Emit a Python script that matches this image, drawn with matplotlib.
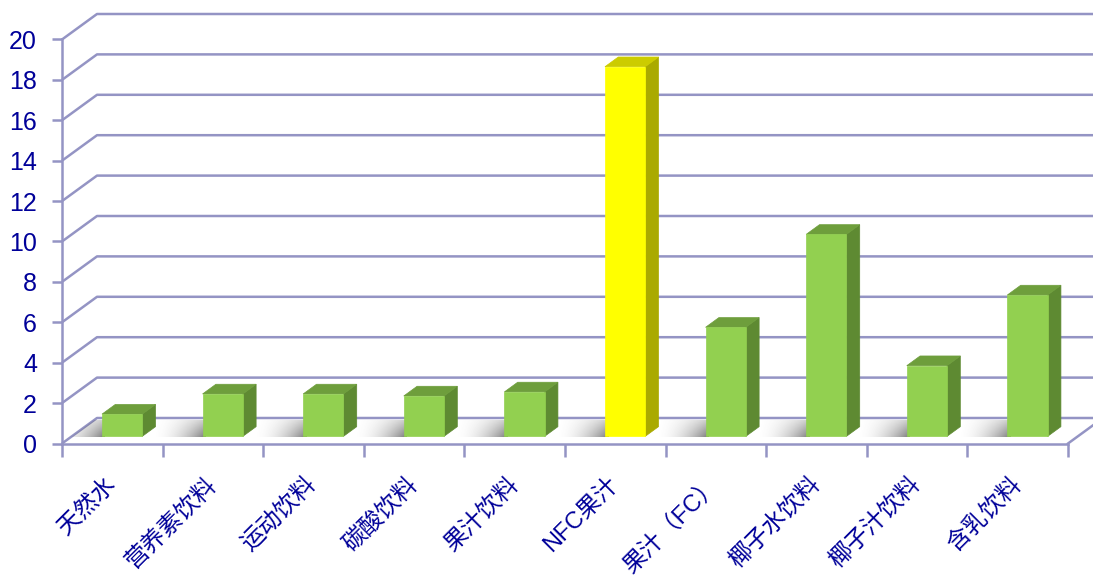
import matplotlib
matplotlib.use("Agg")
import matplotlib.pyplot as plt
import numpy as np
from matplotlib.patches import Polygon

categories = ["天然水", "营养素饮料", "运动饮料", "碳酸饮料", "果汁饮料",
              "NFC果汁", "果汁（FC）", "椰子水饮料", "椰子汁饮料", "含乳饮料"]
values = [1.1, 2.1, 2.1, 2.0, 2.2, 18.3, 5.4, 10.0, 3.5, 7.0]
highlight = "NFC果汁"
yticks = list(range(0, 21, 2))

W, H = 1093, 579
fig = plt.figure(figsize=(W / 100, H / 100), dpi=100)
left_px, right_px, y0_px, y20_px = 62, 1068, 443.5, 39.5
ax = fig.add_axes([left_px / W, (H - y0_px) / H, (right_px - left_px) / W, (y0_px - y20_px) / H])
n = len(categories)
ax.set_xlim(0, n)
ax.set_ylim(0, 20)
ax.patch.set_alpha(0)

pxx = (right_px - left_px) / n
pxy = (y0_px - y20_px) / 20
DX = 35 / pxx
DY = 25.5 / pxy

grid_c = "#9494C4"
lw = 1.8
# back wall grid and left wall diagonals
for v in yticks:
    ax.plot([0, DX, n + DX + 1], [v, v + DY, v + DY], color=grid_c, lw=lw, clip_on=False, zorder=1,
            solid_capstyle="butt")
# floor right edge
ax.plot([n, n + DX], [0, DY], color=grid_c, lw=lw, clip_on=False, zorder=1)

# floor polygon for clipping shadows
floor = Polygon([(0, 0), (n, 0), (n + DX, DY), (DX, DY)], closed=True, transform=ax.transData,
                facecolor="none", edgecolor="none")
ax.add_patch(floor)

f0, f1 = 0.28, 0.66
bw = 0.4
for i, (cat, v) in enumerate(zip(categories, values)):
    c = i + 0.5
    L = c - bw / 2 + f0 * DX
    R = L + bw
    yb = f0 * DY
    ddx, ddy = (f1 - f0) * DX, (f1 - f0) * DY
    # shadow to the left of the bar
    sx0, sx1 = L - 0.5, L + 0.03
    sy0, sy1 = yb - 0.05, yb + ddy + 0.3
    nx, ny = 120, 40
    gx = np.linspace(0, 1, nx)
    gy = np.linspace(0, 1, ny)
    GX, GY = np.meshgrid(gx, gy)
    a = np.clip(GX, 0, 1) ** 2.0 * (1 - 0.6 * GY)
    rgba = np.zeros((ny, nx, 4))
    rgba[..., :3] = 0.3
    rgba[..., 3] = 0.75 * a
    im = ax.imshow(rgba, extent=[sx0, sx1, sy0, sy1], origin="lower", aspect="auto",
                   interpolation="bilinear", zorder=2, clip_on=True)
    im.set_clip_path(floor)

    if cat == highlight:
        fc, sc, tc = "#FFFF00", "#AAAA00", "#CCCC00"
    else:
        fc, sc, tc = "#92D050", "#5E8A32", "#6E9E3C"
    top = yb + v
    ax.add_patch(Polygon([(R, yb), (R + ddx, yb + ddy), (R + ddx, top + ddy), (R, top)],
                         closed=True, facecolor=sc, edgecolor=sc, lw=0.5, zorder=3, clip_on=False))
    ax.add_patch(Polygon([(L, top), (R, top), (R + ddx, top + ddy), (L + ddx, top + ddy)],
                         closed=True, facecolor=tc, edgecolor=tc, lw=0.5, zorder=3, clip_on=False))
    ax.bar(c + f0 * DX, v, width=bw, bottom=yb, color=fc, edgecolor=fc, lw=0.5, zorder=4)

# spines and ticks
for s in ["top", "right"]:
    ax.spines[s].set_visible(False)
for s in ["left", "bottom"]:
    ax.spines[s].set_color(grid_c)
    ax.spines[s].set_linewidth(lw)
    ax.spines[s].set_zorder(5)

ax.set_yticks(yticks)
ax.set_yticklabels([str(t) for t in yticks], fontsize=18, color="#000099",
                   family=["Liberation Sans", "DejaVu Sans"])
ax.tick_params(axis="y", length=7, width=lw, color=grid_c, pad=11)

ax.set_xticks(np.arange(0, n + 1))
ax.set_xticklabels([""] * (n + 1))
ax.tick_params(axis="x", which="major", length=9, width=lw, color=grid_c)
ax.set_xticks(np.arange(n) + 0.5, minor=True)
ax.set_xticklabels(categories, minor=True, fontsize=17, color="#000099", weight="light",
                   family=["Liberation Sans", "Noto Sans CJK SC"])
ax.tick_params(axis="x", which="minor", length=0, pad=27)
for lbl in ax.get_xticklabels(minor=True):
    lbl.set_rotation(45)
    lbl.set_ha("right")
    lbl.set_va("center")
    lbl.set_rotation_mode("anchor")

fig.savefig("out.png", dpi=100)
